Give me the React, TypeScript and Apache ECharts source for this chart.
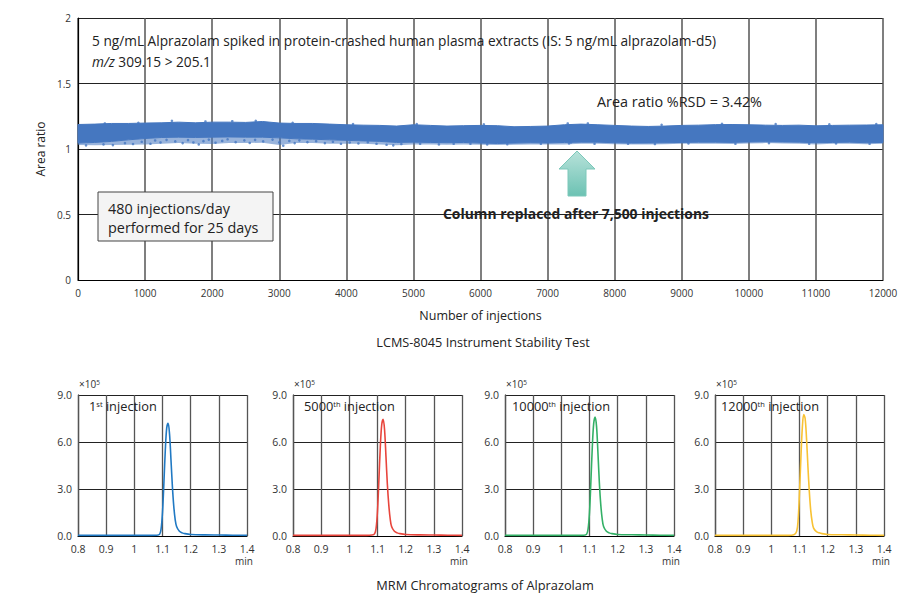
import React, { useEffect, useRef } from "react";
import * as echarts from "echarts";

// ---------- Main stability chart data ----------
const bandX = [0, 250, 500, 750, 1000, 1250, 1500, 1750, 2000, 2250, 2500, 2750, 3000, 3250, 3500, 3750, 4000, 4250, 4500, 4750, 5000, 5250, 5500, 5750, 6000, 6250, 6500, 6750, 7000, 7250, 7500, 7750, 8000, 8250, 8500, 8750, 9000, 9250, 9500, 9750, 10000, 10250, 10500, 10750, 11000, 11250, 11500, 11750, 12000];
// dense part of the scatter band (upper and lower edges)
const bandUpper = [1.187, 1.19, 1.195, 1.195, 1.198, 1.2, 1.205, 1.2, 1.205, 1.205, 1.203, 1.21, 1.198, 1.195, 1.195, 1.19, 1.185, 1.182, 1.18, 1.175, 1.185, 1.18, 1.175, 1.178, 1.18, 1.178, 1.17, 1.172, 1.175, 1.185, 1.19, 1.185, 1.18, 1.175, 1.172, 1.175, 1.18, 1.182, 1.186, 1.187, 1.185, 1.182, 1.18, 1.182, 1.177, 1.18, 1.182, 1.183, 1.185];
const bandLower = [1.045, 1.05, 1.058, 1.07, 1.08, 1.088, 1.09, 1.088, 1.09, 1.092, 1.09, 1.09, 1.085, 1.078, 1.075, 1.07, 1.066, 1.062, 1.058, 1.05, 1.052, 1.05, 1.048, 1.05, 1.045, 1.042, 1.045, 1.048, 1.046, 1.05, 1.052, 1.052, 1.048, 1.045, 1.046, 1.048, 1.05, 1.052, 1.052, 1.05, 1.054, 1.056, 1.054, 1.052, 1.048, 1.05, 1.052, 1.048, 1.05];
// lowest reach of the scattered points below the dense band
const bandSparseLower = [1.03, 1.028, 1.03, 1.032, 1.035, 1.04, 1.045, 1.04, 1.038, 1.045, 1.045, 1.048, 1.03, 1.045, 1.045, 1.04, 1.04, 1.04, 1.035, 1.028, 1.035, 1.035, 1.032, 1.035, 1.032, 1.03, 1.032, 1.035, 1.035, 1.035, 1.04, 1.04, 1.036, 1.034, 1.035, 1.036, 1.04, 1.04, 1.04, 1.038, 1.042, 1.045, 1.042, 1.04, 1.035, 1.04, 1.04, 1.036, 1.04];

const outlierX = [120, 380, 520, 700, 820, 950, 1080, 1150, 1230, 1320, 1450, 1560, 1640, 1720, 1800, 1870, 1950, 2050, 2150, 2230, 2350, 2480, 2560, 2640, 2760, 2900, 3000, 3060, 3150, 3230, 3300, 3420, 3550, 3680, 3800, 3920, 4050, 4180, 4320, 4450, 4600, 4700, 4820, 5100, 5380, 5600, 5850, 6100, 6400, 6900, 7320, 7330, 7350, 7700, 8200, 8600, 9100, 9800, 10300, 10900, 11300, 11800, 400, 900, 1400, 1900, 2300, 2650, 3200, 4100, 5050, 6050, 7300, 7600, 8700, 9600, 10400, 11200, 11900];
const outlierY = [1.028, 1.035, 1.03, 1.045, 1.038, 1.055, 1.04, 1.065, 1.05, 1.07, 1.058, 1.045, 1.068, 1.05, 1.035, 1.06, 1.072, 1.048, 1.062, 1.074, 1.052, 1.066, 1.046, 1.07, 1.058, 1.072, 1.05, 1.025, 1.062, 1.045, 1.066, 1.052, 1.06, 1.045, 1.055, 1.04, 1.05, 1.042, 1.052, 1.04, 1.032, 1.028, 1.038, 1.04, 1.035, 1.04, 1.04, 1.035, 1.036, 1.04, 1.042, 1.06, 1.05, 1.04, 1.04, 1.038, 1.042, 1.04, 1.045, 1.04, 1.042, 1.04, 1.195, 1.2, 1.215, 1.21, 1.212, 1.215, 1.2, 1.19, 1.19, 1.188, 1.195, 1.195, 1.185, 1.192, 1.19, 1.188, 1.19];

// ---------- Chromatogram data ----------
const chromTime = [0.8, 0.9, 1.0, 1.06, 1.08, 1.09, 1.095, 1.1, 1.105, 1.11, 1.115, 1.12, 1.125, 1.13, 1.135, 1.14, 1.145, 1.15, 1.16, 1.17, 1.18, 1.2, 1.25, 1.3, 1.35, 1.4];
const chrom1st = [0.04, 0.04, 0.04, 0.04, 0.05, 0.12, 0.45, 1.5, 3.4, 5.5, 6.9, 7.2, 6.5, 4.9, 3.2, 1.9, 1.05, 0.6, 0.3, 0.2, 0.15, 0.1, 0.07, 0.06, 0.05, 0.04];
const chrom5000 = [0.04, 0.04, 0.04, 0.04, 0.06, 0.15, 0.5, 1.6, 3.6, 5.7, 7.1, 7.45, 6.8, 5.1, 3.3, 2.0, 1.1, 0.6, 0.3, 0.2, 0.15, 0.1, 0.07, 0.06, 0.05, 0.04];
const chrom10000 = [0.04, 0.04, 0.04, 0.04, 0.05, 0.12, 0.45, 1.5, 3.5, 5.7, 7.2, 7.6, 7.0, 5.3, 3.4, 2.0, 1.1, 0.6, 0.3, 0.2, 0.15, 0.1, 0.08, 0.06, 0.05, 0.04];
const chrom12000 = [0.04, 0.04, 0.04, 0.04, 0.08, 0.3, 1.0, 2.8, 5.0, 6.9, 7.75, 7.5, 6.2, 4.4, 2.8, 1.6, 0.9, 0.5, 0.28, 0.2, 0.15, 0.1, 0.08, 0.06, 0.05, 0.04];

const chromXTicks = ["0.8", "0.9", "1", "1.1", "1.2", "1.3", "1.4"];
const chromYTicks = ["0.0", "3.0", "6.0", "9.0"];

const chromLabels = [
  { num: "1", sup: "st" },
  { num: "5000", sup: "th" },
  { num: "10000", sup: "th" },
  { num: "12000", sup: "th" },
];
const chromSeries = [chrom1st, chrom5000, chrom10000, chrom12000];
const chromColors = ["#2079c3", "#e8453c", "#33b066", "#f8c234"];

const FONT = "'Open Sans', 'Noto Sans', sans-serif";
const BAND_COLOR = "#4577c0";

export default function App() {
  const ref = useRef<HTMLDivElement>(null);

  useEffect(() => {
    document.body.style.margin = "0";
    if (!ref.current) return;
    const chart = echarts.init(ref.current, undefined, { renderer: "svg" });

    const smallLefts = [78, 293, 505, 715];
    const smallW = 169;
    const smallTop = 395;
    const smallH = 141;
    const labelOffsets = [11, 11, 7, 6];

    const grids: any[] = [{ left: 78, top: 18, width: 805, height: 262 }];
    smallLefts.forEach((l) => grids.push({ left: l, top: smallTop, width: smallW, height: smallH }));

    const xAxes: any[] = [
      {
        type: "value",
        gridIndex: 0,
        min: 0,
        max: 12000,
        interval: 1000,
        name: "Number of injections",
        nameLocation: "middle",
        nameGap: 29,
        nameTextStyle: { fontSize: 12.5, color: "#222", fontFamily: FONT },
        axisLine: { lineStyle: { color: "#000", width: 1.2 } },
        axisTick: { show: false },
        axisLabel: {
          fontSize: 10,
          color: "#333",
          margin: 8,
          fontFamily: FONT,
          formatter: (v: number) => String(v),
        },
        splitLine: { show: true, lineStyle: { color: "#555", width: 1.5 } },
      },
    ];
    const yAxes: any[] = [
      {
        type: "value",
        gridIndex: 0,
        min: 0,
        max: 2,
        interval: 0.5,
        name: "Area ratio",
        nameLocation: "middle",
        nameGap: 28,
        nameTextStyle: { fontSize: 12, color: "#222", fontFamily: FONT },
        axisLine: { show: true, lineStyle: { color: "#000", width: 1.2 } },
        axisTick: { show: false },
        axisLabel: { fontSize: 10, color: "#333", margin: 7, fontFamily: FONT },
        splitLine: { show: true, lineStyle: { color: "#222", width: 1 } },
      },
    ];

    smallLefts.forEach((_, k) => {
      xAxes.push({
        type: "value",
        gridIndex: k + 1,
        min: 0.8,
        max: 1.4,
        interval: 0.1,
        axisLine: { lineStyle: { color: "#000", width: 1.2 } },
        axisTick: { show: false },
        axisLabel: {
          fontSize: 10.5,
          color: "#333",
          margin: 7,
          fontFamily: FONT,
          formatter: (_v: number, i: number) => chromXTicks[i] ?? "",
        },
        splitLine: { show: true, lineStyle: { color: "#555", width: 1.3 } },
      });
      yAxes.push({
        type: "value",
        gridIndex: k + 1,
        min: 0,
        max: 9,
        interval: 3,
        axisLine: { show: true, lineStyle: { color: "#555", width: 1.3 } },
        axisTick: { show: false },
        axisLabel: {
          fontSize: 10.5,
          color: "#333",
          margin: 6,
          fontFamily: FONT,
          formatter: (_v: number, i: number) => chromYTicks[i] ?? "",
        },
        splitLine: { show: true, lineStyle: { color: "#222", width: 1 } },
      });
    });

    const bandPolygon = (upper: number[], lower: number[], opacity: number) => ({
      type: "custom",
      coordinateSystem: "cartesian2d",
      xAxisIndex: 0,
      yAxisIndex: 0,
      silent: true,
      data: [[bandX[0], lower[0]]],
      renderItem: (_params: any, api: any) => {
        const top = bandX.map((x, i) => api.coord([x, upper[i]]));
        const bot = bandX.map((x, i) => api.coord([x, lower[i]])).reverse();
        return {
          type: "polygon",
          shape: { points: top.concat(bot) },
          style: { fill: BAND_COLOR, stroke: BAND_COLOR, lineWidth: opacity < 1 ? 0 : 1, opacity },
        };
      },
      z: 3,
    });

    const series: any[] = [
      bandPolygon(bandLower, bandSparseLower, 0.55),
      bandPolygon(bandUpper, bandLower, 1),
      {
        type: "scatter",
        xAxisIndex: 0,
        yAxisIndex: 0,
        symbolSize: 2.6,
        itemStyle: { color: BAND_COLOR },
        data: outlierX.map((x, i) => [x, outlierY[i]]),
        z: 4,
      },
    ];

    chromSeries.forEach((vals, k) => {
      series.push({
        type: "line",
        xAxisIndex: k + 1,
        yAxisIndex: k + 1,
        showSymbol: false,
        symbol: "none",
        smooth: 0.35,
        lineStyle: { color: chromColors[k], width: 1.6 },
        data: chromTime.map((t, i) => [t, vals[i]]),
        z: 4,
      });
    });

    const txt = (x: number, y: number, text: string, font: string, extra: any = {}) => ({
      type: "text",
      x,
      y,
      z: 100,
      style: {
        text,
        font,
        fill: "#222",
        align: "left",
        verticalAlign: "middle",
        textAlign: "left",
        textVerticalAlign: "middle",
        ...extra,
      },
    });

    const graphic: any[] = [
      txt(92, 40, "5 ng/mL Alprazolam spiked in protein-crashed human plasma extracts (IS: 5 ng/mL alprazolam-d5)", `13.7px ${FONT}`),
      txt(92, 61, "{i|m/z}{n| 309.15 > 205.1}", `13.7px ${FONT}`, {
        rich: {
          i: { fontStyle: "italic", fontSize: 13.7, fontFamily: FONT, fill: "#222", color: "#222" },
          n: { fontSize: 13.7, fontFamily: FONT, fill: "#222", color: "#222" },
        },
      }),
      txt(597, 101, "Area ratio %RSD = 3.42%", `14.4px ${FONT}`),
      {
        type: "rect",
        z: 99,
        shape: { x: 98, y: 192, width: 175, height: 49 },
        style: { fill: "#f4f4f4", stroke: "#444", lineWidth: 1 },
      },
      txt(108, 208, "480 injections/day", `14.4px ${FONT}`),
      txt(108, 227, "performed for 25 days", `14.4px ${FONT}`),
      {
        type: "polygon",
        z: 99,
        shape: {
          points: [
            [577, 151],
            [595, 169],
            [586, 169],
            [586, 196],
            [568, 196],
            [568, 169],
            [559, 169],
          ],
        },
        style: {
          fill: new echarts.graphic.LinearGradient(0, 0, 0, 1, [
            { offset: 0, color: "#b8e2da" },
            { offset: 1, color: "#6cc2b3" },
          ]),
          stroke: "#7cc8ba",
          lineWidth: 1,
        },
      },
      txt(576, 213, "Column replaced after 7,500 injections", `bold 13.9px ${FONT}`, {
        align: "center",
        textAlign: "center",
      }),
      txt(483, 342, "LCMS-8045 Instrument Stability Test", `12.7px ${FONT}`, {
        align: "center",
        textAlign: "center",
      }),
      txt(485, 585, "MRM Chromatograms of Alprazolam", `12.8px ${FONT}`, {
        align: "center",
        textAlign: "center",
      }),
    ];

    smallLefts.forEach((l, k) => {
      graphic.push(
        txt(l + 1, 384, "{a|×10}{s|5}", `10px ${FONT}`, {
          rich: {
            a: { fontSize: 10, fontFamily: FONT, color: "#333", fill: "#333" },
            s: { fontSize: 6.5, fontFamily: FONT, color: "#333", fill: "#333", verticalAlign: "top" },
          },
        })
      );
      graphic.push(
        txt(l + smallW + 6, 561, "min", `10px ${FONT}`, { align: "right", textAlign: "right", fill: "#333" })
      );
      const lab = chromLabels[k];
      graphic.push(
        txt(l + labelOffsets[k], 406, `{a|${lab.num}}{s|${lab.sup}}{a| injection}`, `13px ${FONT}`, {
          rich: {
            a: { fontSize: 12.8, fontFamily: FONT, color: "#222", fill: "#222" },
            s: { fontSize: 7.5, fontFamily: FONT, color: "#222", fill: "#222", verticalAlign: "top" },
          },
        })
      );
    });

    chart.setOption({
      animation: false,
      backgroundColor: "#ffffff",
      textStyle: { fontFamily: FONT },
      grid: grids,
      xAxis: xAxes,
      yAxis: yAxes,
      series,
      graphic,
    });

    return () => chart.dispose();
  }, []);

  return <div ref={ref} style={{ width: 916, height: 601 }} />;
}
